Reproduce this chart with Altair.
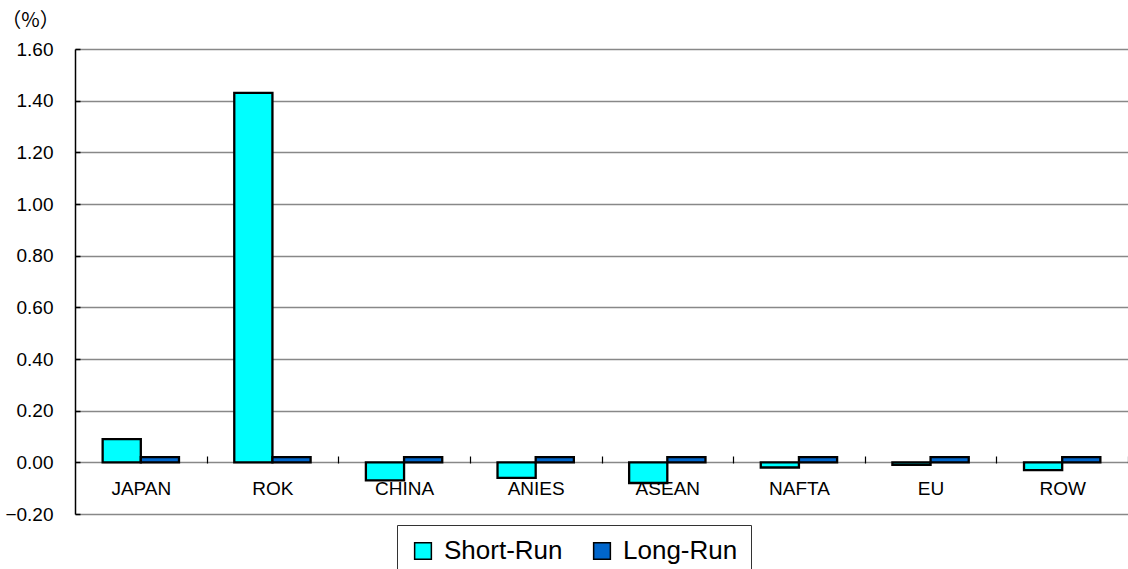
import altair as alt
import pandas as pd

# Regions and welfare change (%) under the short-run and long-run scenarios
regions = ["JAPAN", "ROK", "CHINA", "ANIES", "ASEAN", "NAFTA", "EU", "ROW"]
short_run = [0.09, 1.43, -0.07, -0.06, -0.08, -0.02, -0.01, -0.03]
long_run = [0.02, 0.02, 0.02, 0.02, 0.02, 0.02, 0.02, 0.02]
series_names = ["Short-Run", "Long-Run"]
series_colors = ["#00FFFF", "#0066CC"]
y_ticks = [-0.2, 0.0, 0.2, 0.4, 0.6, 0.8, 1.0, 1.2, 1.4, 1.6]

rows = []
for r, s, l in zip(regions, short_run, long_run):
    rows.append({"region": r, "series": "Short-Run", "value": s})
    rows.append({"region": r, "series": "Long-Run", "value": l})
df = pd.DataFrame(rows)

PLOT_W = 1053
PLOT_H = 465
STEP = PLOT_W / len(regions)
FONT = "Liberation Sans"

chart = (
    alt.Chart(df)
    .mark_bar(stroke="black", strokeWidth=2.3)
    .encode(
        # Category axis sits on the zero line: separator ticks point up at
        # the boundaries between groups, labels are pushed below the line.
        x=alt.X(
            "region:N", sort=regions, title=None,
            scale=alt.Scale(paddingInner=0.42, paddingOuter=0.21),
            axis=alt.Axis(
                orient="top", offset=-414, domain=False,
                ticks=True, tickSize=7, tickOffset=STEP / 2,
                tickColor="black", tickWidth=1.2,
                labelOffset=-STEP / 2,
                labelAngle=0, labelFontSize=19, labelFont=FONT,
                labelColor="black", labelPadding=-42, labelBaseline="bottom",
            ),
        ),
        xOffset=alt.XOffset("series:N", sort=series_names),
        # Value axis drawn on the left edge with inward ticks
        y=alt.Y(
            "value:Q",
            scale=alt.Scale(domain=[-0.2, 1.6], nice=False),
            axis=alt.Axis(
                orient="right", offset=-PLOT_W,
                values=y_ticks, format=".2f",
                domain=True, domainColor="black", domainWidth=1.5,
                ticks=True, tickSize=5, tickColor="black", tickWidth=1.5,
                labelAlign="right", labelPadding=-27,
                labelFontSize=19, labelFont=FONT, labelColor="black",
                grid=True, gridColor="#888888", gridWidth=1.3,
                title="（%）", titleAngle=0, titleX=-45, titleY=-29,
                titleAlign="center", titleBaseline="middle",
                titleFont="Noto Sans CJK JP", titleFontSize=20,
                titleFontWeight="normal", titleColor="black",
            ),
        ),
        color=alt.Color(
            "series:N",
            scale=alt.Scale(domain=series_names, range=series_colors),
            legend=alt.Legend(
                title=None, orient="none", legendX=322, legendY=476,
                direction="horizontal", symbolType="square", symbolSize=280,
                symbolStrokeColor="black", symbolStrokeWidth=1.5,
                labelFontSize=26, labelFont=FONT, labelColor="black",
                labelOffset=8, columnPadding=26, padding=13,
                strokeColor="#333333", fillColor="white",
            ),
        ),
    )
    .properties(
        width=PLOT_W, height=PLOT_H,
        autosize=alt.AutoSizeParams(type="none"),
        padding={"left": 75, "top": 49, "right": 0, "bottom": 55},
        background="white",
    )
    .configure_view(stroke=None)
)

chart.save("out.html", embed_options={"renderer": "svg", "actions": False})
